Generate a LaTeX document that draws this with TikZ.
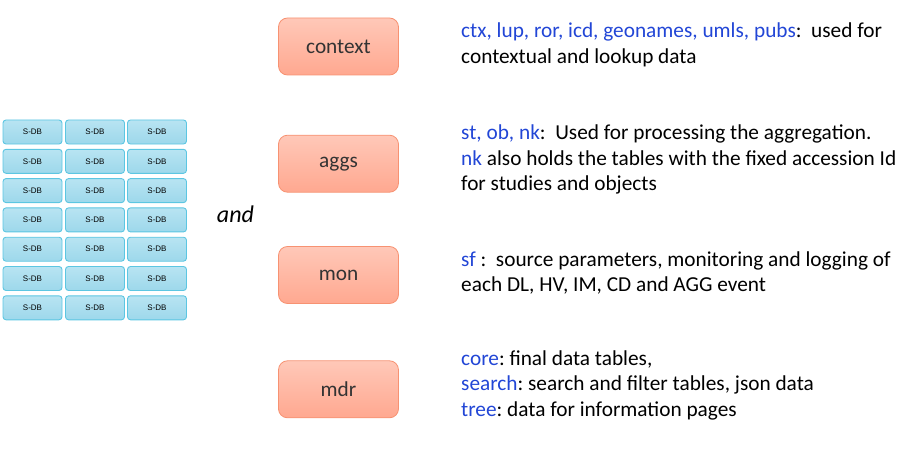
\documentclass[tikz,border=0pt]{standalone}
\usepackage{fontspec}
\setmainfont{Carlito}
\setsansfont{Liberation Sans}
\usepackage{xcolor}
\usepackage{tikz}
\definecolor{dbtopc}{HTML}{B8E4F2}
\definecolor{dbbotc}{HTML}{9DD8EB}
\definecolor{dbedgec}{HTML}{5CC6E2}
\definecolor{schtopc}{HTML}{FFC8B8}
\definecolor{schbotc}{HTML}{FFA890}
\definecolor{schedgec}{HTML}{F79272}
\definecolor{namec}{HTML}{2246D6}
\tikzset{
  dbnode/.style={rectangle, rounded corners=3pt, draw=dbedgec, line width=0.9pt,
    top color=dbtopc, bottom color=dbbotc, minimum width=59pt, minimum height=24pt,
    inner sep=0pt, font=\sffamily\fontsize{8}{9}\selectfont},
  schemanode/.style={rectangle, rounded corners=9pt, draw=schedgec, line width=0.8pt,
    top color=schtopc, bottom color=schbotc, minimum width=120pt, minimum height=57pt,
    inner sep=0pt, font=\fontsize{21.3}{25}\selectfont, text=black!80},
  notenode/.style={anchor=north west, align=left, inner sep=0pt,
    font=\fontsize{21.3}{25.7}\selectfont},
}
\newcommand{\nm}[1]{\textcolor{namec}{#1}}
\frenchspacing

\begin{document}
\begin{tikzpicture}[x=1pt, y=-1pt]
  \useasboundingbox (0,0) rectangle (914,452);
  % grid of source databases
  \foreach \r in {0,...,6}
    \foreach \c/\cx in {0/32.5, 1/95, 2/157}
      \node[dbnode] (sdb-\r-\c) at (\cx,{132+29.3*\r}) {S-DB};
  \node[font=\itshape\fontsize{24}{28}\selectfont] (and) at (235.5,214) {and};
  % central schemas
  \node[schemanode] (context) at (338.5,46.5) {context};
  \node[schemanode] (aggs) at (338.5,163.7) {aggs};
  \node[schemanode] (mon) at (338.5,275) {mon};
  \node[schemanode] (mdr) at (338.5,389.3) {mdr};
  % descriptions
  \node[notenode] (ctxnote) at (461,19.7)
    {\strut\nm{ctx, lup, ror, icd, geonames,\ umls, pubs}:\ \ used for\\
     contextual\ and lookup data};
  \node[notenode] (aggnote) at (461,121.3)
    {\strut\nm{st, ob, nk}:\ \ Used for processing the aggregation.\\
     \nm{nk} also holds the tables with the fixed accession Id\\
     for studies and objects};
  \node[notenode] (monnote) at (461,248)
    {\strut\nm{sf} :\ \ source parameters, monitoring and logging of\\
     each DL, HV, IM, CD and AGG event};
  \node[notenode] (mdrnote) at (461,347)
    {\strut\nm{core}: final data tables,\\
     \nm{search}: search and filter tables, json data\\
     \nm{tree}: data for information pages};
\end{tikzpicture}
\end{document}
